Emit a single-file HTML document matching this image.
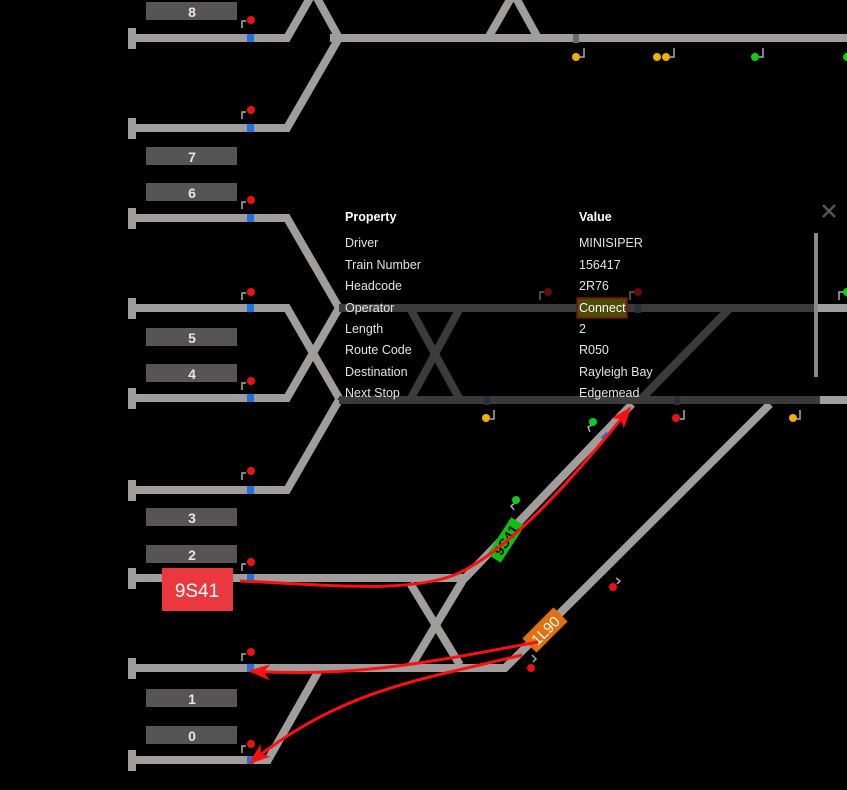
<!DOCTYPE html>
<html><head><style>
html,body{margin:0;padding:0;background:#000;}
svg{display:block;}
text{font-family:"Liberation Sans",sans-serif;}
</style></head><body>
<svg width="847" height="790" viewBox="0 0 847 790" xmlns="http://www.w3.org/2000/svg">
<defs>
<marker id="ah2" markerWidth="22" markerHeight="16" refX="20" refY="8" orient="auto" markerUnits="userSpaceOnUse" viewBox="0 0 22 16">
<path d="M0,0 L22,8 L0,16 L6,8 Z" fill="#ff1010"/>
</marker>
</defs>
<g fill="#565454">
<rect x="146" y="2" width="91" height="18"/>
<rect x="146" y="147" width="91" height="18"/>
<rect x="146" y="183" width="91" height="18"/>
<rect x="146" y="328" width="91" height="18"/>
<rect x="146" y="364" width="91" height="18"/>
<rect x="146" y="508" width="91" height="18"/>
<rect x="146" y="545" width="91" height="18"/>
<rect x="146" y="689" width="91" height="18"/>
<rect x="146" y="726" width="91" height="18"/>
</g>
<g fill="#e6e6e6" font-size="14" font-weight="bold" text-anchor="middle">
<text x="192" y="17">8</text><text x="192" y="162">7</text><text x="192" y="198">6</text>
<text x="192" y="343">5</text><text x="192" y="379">4</text><text x="192" y="523">3</text>
<text x="192" y="560">2</text><text x="192" y="704">1</text><text x="192" y="741">0</text>
</g>
<g stroke="#a19d9d" stroke-width="8" fill="none" stroke-linejoin="miter">
<polyline points="130,38 287,38 310,-2"/>
<line x1="317" y1="-2" x2="339" y2="38"/>
<line x1="330" y1="38" x2="847" y2="38"/>
<polyline points="130,128 287,128 339,38"/>
<line x1="488" y1="38" x2="511" y2="-2"/>
<line x1="516" y1="-2" x2="538" y2="38"/>
<polyline points="130,218 287,218 339,308"/>
<polyline points="130,308 287,308 339,398"/>
<polyline points="130,398 287,398 339,308"/>
<polyline points="130,490 287,490 339,400"/>
<line x1="818" y1="308" x2="847" y2="308"/>
<line x1="820" y1="400" x2="847" y2="400"/>
<polyline points="130,578 465,578 632,404"/>
<polyline points="130,668 505,668 770,404"/>
<line x1="410" y1="583" x2="460" y2="665"/>
<line x1="463" y1="580" x2="410" y2="668"/>
<polyline points="130,760 268,760 318,672"/>
</g>
<g stroke="#3b3b3b" stroke-width="8" fill="none">
<line x1="339" y1="308" x2="818" y2="308"/>
<line x1="339" y1="400" x2="820" y2="400"/>
<line x1="410" y1="308" x2="460" y2="400"/>
<line x1="460" y1="308" x2="410" y2="400"/>
<line x1="730" y1="308" x2="640" y2="400"/>
</g>
<g fill="#a19d9d">
<rect x="128" y="28" width="8" height="21"/><rect x="128" y="118" width="8" height="21"/>
<rect x="128" y="208" width="8" height="21"/><rect x="128" y="298" width="8" height="21"/>
<rect x="128" y="388" width="8" height="21"/><rect x="128" y="480" width="8" height="21"/>
<rect x="128" y="568" width="8" height="21"/><rect x="128" y="658" width="8" height="21"/>
<rect x="128" y="750" width="8" height="21"/>
</g>
<g fill="#1a74e0">
<rect x="247" y="34" width="7" height="8"/><rect x="247" y="124" width="7" height="8"/>
<rect x="247" y="214" width="7" height="8"/><rect x="247" y="304" width="7" height="8"/>
<rect x="247" y="394" width="7" height="8"/><rect x="247" y="486" width="7" height="8"/>
<rect x="247" y="574" width="7" height="8"/><rect x="247" y="664" width="7" height="8"/>
<rect x="247" y="756" width="7" height="8"/>
</g>
<rect x="573" y="34" width="6" height="9" fill="#646c78"/>
<rect x="484" y="396" width="6" height="9" fill="#2a3038"/>
<rect x="674" y="396" width="6" height="9" fill="#2a3038"/>
<rect x="635" y="304" width="6" height="9" fill="#2a3038"/>
<g stroke="#aaa" stroke-width="1.5" fill="none">
<path d="M242,28 V21 H246"/><path d="M242,119 V112 H246"/><path d="M242,209 V202 H246"/>
<path d="M242,300 V293 H246"/><path d="M242,390 V383 H246"/><path d="M242,480 V473 H246"/>
<path d="M242,571 V564 H246"/><path d="M242,661 V654 H246"/><path d="M242,753 V746 H246"/>
<path d="M584,48 V57 H580"/><path d="M674,48 V57 H670"/><path d="M763,48 V57 H759"/>
<path d="M494,410 V419 H490"/><path d="M684,410 V419 H680"/><path d="M800,410 V419 H796"/>
<path d="M540,300 V292 H545" stroke="#666"/><path d="M630,300 V292 H635" stroke="#666"/>
<path d="M839,300 V292 H844"/>
<path d="M590,432 L588,427 L592,425"/><path d="M514,510 L511,506 L515,503"/>
<path d="M616,578 L620,581 L617,584"/><path d="M532,655 L536,659 L533,662"/>
</g>
<g fill="#ee1111">
<circle cx="251" cy="20" r="4"/><circle cx="251" cy="110" r="4"/><circle cx="251" cy="200" r="4"/>
<circle cx="251" cy="292" r="4"/><circle cx="251" cy="381" r="4"/><circle cx="251" cy="471" r="4"/>
<circle cx="251" cy="562" r="4"/><circle cx="251" cy="652" r="4"/><circle cx="251" cy="744" r="4"/>
<circle cx="676" cy="418" r="4"/><circle cx="613" cy="587" r="4"/><circle cx="531" cy="668" r="4"/>
</g>
<g fill="#6a0a0a"><circle cx="548" cy="292" r="4"/><circle cx="638" cy="292" r="4"/></g>
<g fill="#f0b000">
<circle cx="576" cy="57" r="4"/><circle cx="657" cy="57" r="4"/><circle cx="666" cy="57" r="4"/>
<circle cx="486" cy="418" r="4"/><circle cx="793" cy="418" r="4"/>
</g>
<g fill="#11cc11">
<circle cx="755" cy="57" r="4"/><circle cx="847" cy="57" r="4"/><circle cx="847" cy="292" r="4"/>
<circle cx="593" cy="422" r="4"/><circle cx="516" cy="500" r="4"/>
</g>
<rect x="603" y="432" width="5" height="8" fill="#1a74e0" transform="rotate(45 605 436)"/>
<rect x="814" y="233" width="4" height="144" fill="#8a8a8a"/>
<g stroke="#555" stroke-width="2.5"><line x1="823" y1="205" x2="835" y2="217"/><line x1="835" y1="205" x2="823" y2="217"/></g>
<g transform="translate(506,540) rotate(-57)">
<rect x="-22" y="-8" width="44" height="16" fill="#10c010"/>
<text x="0" y="5" font-size="14" fill="#000" text-anchor="middle" font-weight="bold">9S41</text>
</g>
<g transform="translate(545,630) rotate(-45)">
<rect x="-22" y="-10" width="44" height="20" fill="#e07010"/>
<text x="0" y="6" font-size="15" fill="#fff" text-anchor="middle">1L90</text>
</g>
<g stroke="#ff1010" stroke-width="3" fill="none">
<path d="M240,581 C330,585 420,595 465,570 C520,540 580,470 630,408" marker-end="url(#ah2)"/>
<path d="M538,642 C440,660 360,678 250,671" marker-end="url(#ah2)"/>
<path d="M522,655 C420,680 340,690 250,763" marker-end="url(#ah2)"/>
</g>
<rect x="162" y="568" width="71" height="43" fill="#ea383e"/>
<text x="197" y="597" font-size="19" fill="#fff" text-anchor="middle">9S41</text>
<rect x="577" y="298" width="50" height="20" fill="#4e4a08" stroke="#7a1010" stroke-width="1.5"/>
<g fill="#e2e2e2" font-size="12.5">
<text x="345" y="221" font-weight="bold" fill="#fff">Property</text>
<text x="579" y="221" font-weight="bold" fill="#fff">Value</text>
<text x="345" y="247">Driver</text><text x="579" y="247">MINISIPER</text>
<text x="345" y="269">Train Number</text><text x="579" y="269">156417</text>
<text x="345" y="290">Headcode</text><text x="579" y="290">2R76</text>
<text x="345" y="312">Operator</text><text x="579" y="312" fill="#fff">Connect</text>
<text x="345" y="333">Length</text><text x="579" y="333">2</text>
<text x="345" y="354">Route Code</text><text x="579" y="354">R050</text>
<text x="345" y="376">Destination</text><text x="579" y="376">Rayleigh Bay</text>
<text x="345" y="397">Next Stop</text><text x="579" y="397">Edgemead</text>
</g>
</svg>
</body></html>
